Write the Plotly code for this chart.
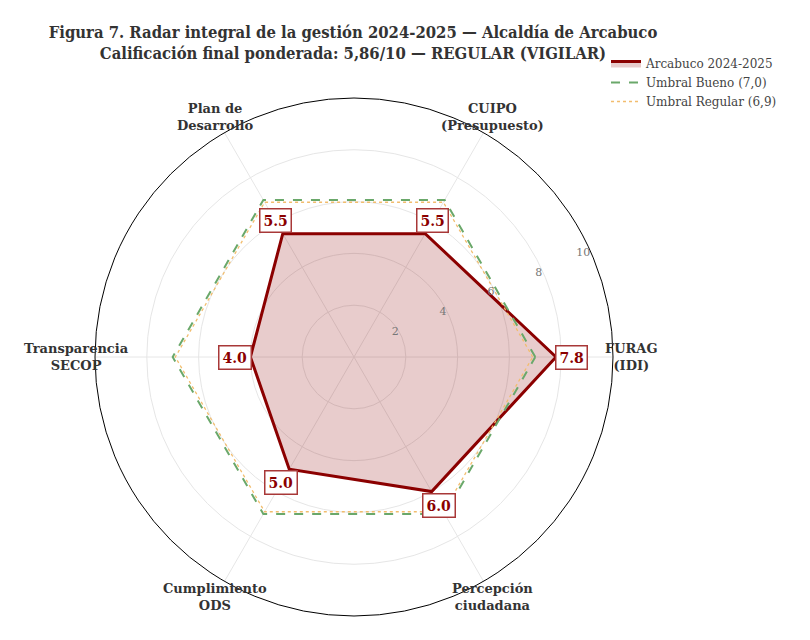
import numpy as np
import plotly.graph_objects as go

# data
dimensiones = ["FURAG<br>(IDI)", "CUIPO<br>(Presupuesto)", "Plan de<br>Desarrollo",
               "Transparencia<br>SECOP", "Cumplimiento<br>ODS", "Percepción<br>ciudadana"]
angulos = [0, 60, 120, 180, 240, 300]
puntajes = [7.8, 5.5, 5.5, 4.0, 5.0, 6.0]
umbral_bueno = 7.0
umbral_regular = 6.9
radial_ticks = [2, 4, 6, 8, 10]

W, H = 810, 640
# polar circle: centre (346, 349) px from top-left, radius 259 px
dom_x = [87 / W, 605 / W]
dom_y = [32 / H, 550 / H]
cx, cy = sum(dom_x) / 2, sum(dom_y) / 2
R_px = min((dom_x[1] - dom_x[0]) * W, (dom_y[1] - dom_y[0]) * H) / 2

ROJO = "#8B0000"
SERIF = "DejaVu Serif"


def to_paper(r, ang):
    a = np.deg2rad(ang)
    return cx + r / 10 * R_px * np.cos(a) / W, cy + r / 10 * R_px * np.sin(a) / H


theta_c = angulos + [angulos[0]]

fig = go.Figure()
fig.add_trace(go.Scatterpolar(
    r=puntajes + [puntajes[0]], theta=theta_c, mode="lines",
    fill="toself", fillcolor="rgba(139,0,0,0.2)",
    line=dict(color=ROJO, width=3), name="Arcabuco 2024-2025"))
fig.add_trace(go.Scatterpolar(
    r=[umbral_bueno] * 7, theta=theta_c, mode="lines",
    line=dict(color="#6aa86a", width=2, dash="dash"), name="Umbral Bueno (7,0)"))
fig.add_trace(go.Scatterpolar(
    r=[umbral_regular] * 7, theta=theta_c, mode="lines",
    line=dict(color="#f2bd6e", width=1.3, dash="dot"), name="Umbral Regular (6,9)"))

anns = []
for v, ang in zip(puntajes, angulos):
    x, y = to_paper(v + 0.6, ang)
    anns.append(dict(x=x, y=y, xref="paper", yref="paper", xanchor="center", yanchor="middle",
                     text=f"<b>{v:.1f}</b>", showarrow=False,
                     font=dict(family=SERIF, size=14, color=ROJO),
                     bgcolor="white", bordercolor="#a83838", borderwidth=1.5, borderpad=3))
for lab, ang in zip(dimensiones, angulos):
    x, y = to_paper(10.7, ang)
    anns.append(dict(x=x, y=y, xref="paper", yref="paper", xanchor="center", yanchor="middle",
                     text=f"<b>{lab}</b>", showarrow=False,
                     font=dict(family=SERIF, size=13, color="#333333")))

fig.update_layout(
    width=W, height=H,
    margin=dict(l=0, r=0, t=0, b=0),
    paper_bgcolor="white",
    font=dict(family=SERIF),
    title=dict(text="<b>Figura 7. Radar integral de la gestión 2024-2025 — Alcaldía de Arcabuco<br>"
                    "Calificación final ponderada: 5,86/10 — REGULAR (VIGILAR)</b>",
               x=345 / W, xanchor="center", y=1 - 30 / H, yanchor="middle",
               font=dict(family="DejaVu Serif Condensed", size=16.5, color="#333333")),
    polar=dict(
        domain=dict(x=dom_x, y=dom_y),
        bgcolor="white",
        radialaxis=dict(range=[0, 10], tickvals=radial_ticks, angle=22.5, tickangle=22.5,
                        side="counterclockwise", showline=False, ticks="", gridcolor="#e6e6e6",
                        tickfont=dict(family=SERIF, size=11, color="#777777")),
        angularaxis=dict(tickmode="array", tickvals=angulos, showticklabels=False,
                         direction="counterclockwise", rotation=0, ticks="",
                         gridcolor="#e6e6e6", linecolor="black", linewidth=1),
    ),
    legend=dict(x=598 / W, y=1 - 41 / H, xanchor="left", yanchor="top",
                font=dict(family=SERIF, size=12, color="#444444"),
                bgcolor="rgba(255,255,255,0)", tracegroupgap=2),
    annotations=anns,
)

fig.write_html("out.html")
